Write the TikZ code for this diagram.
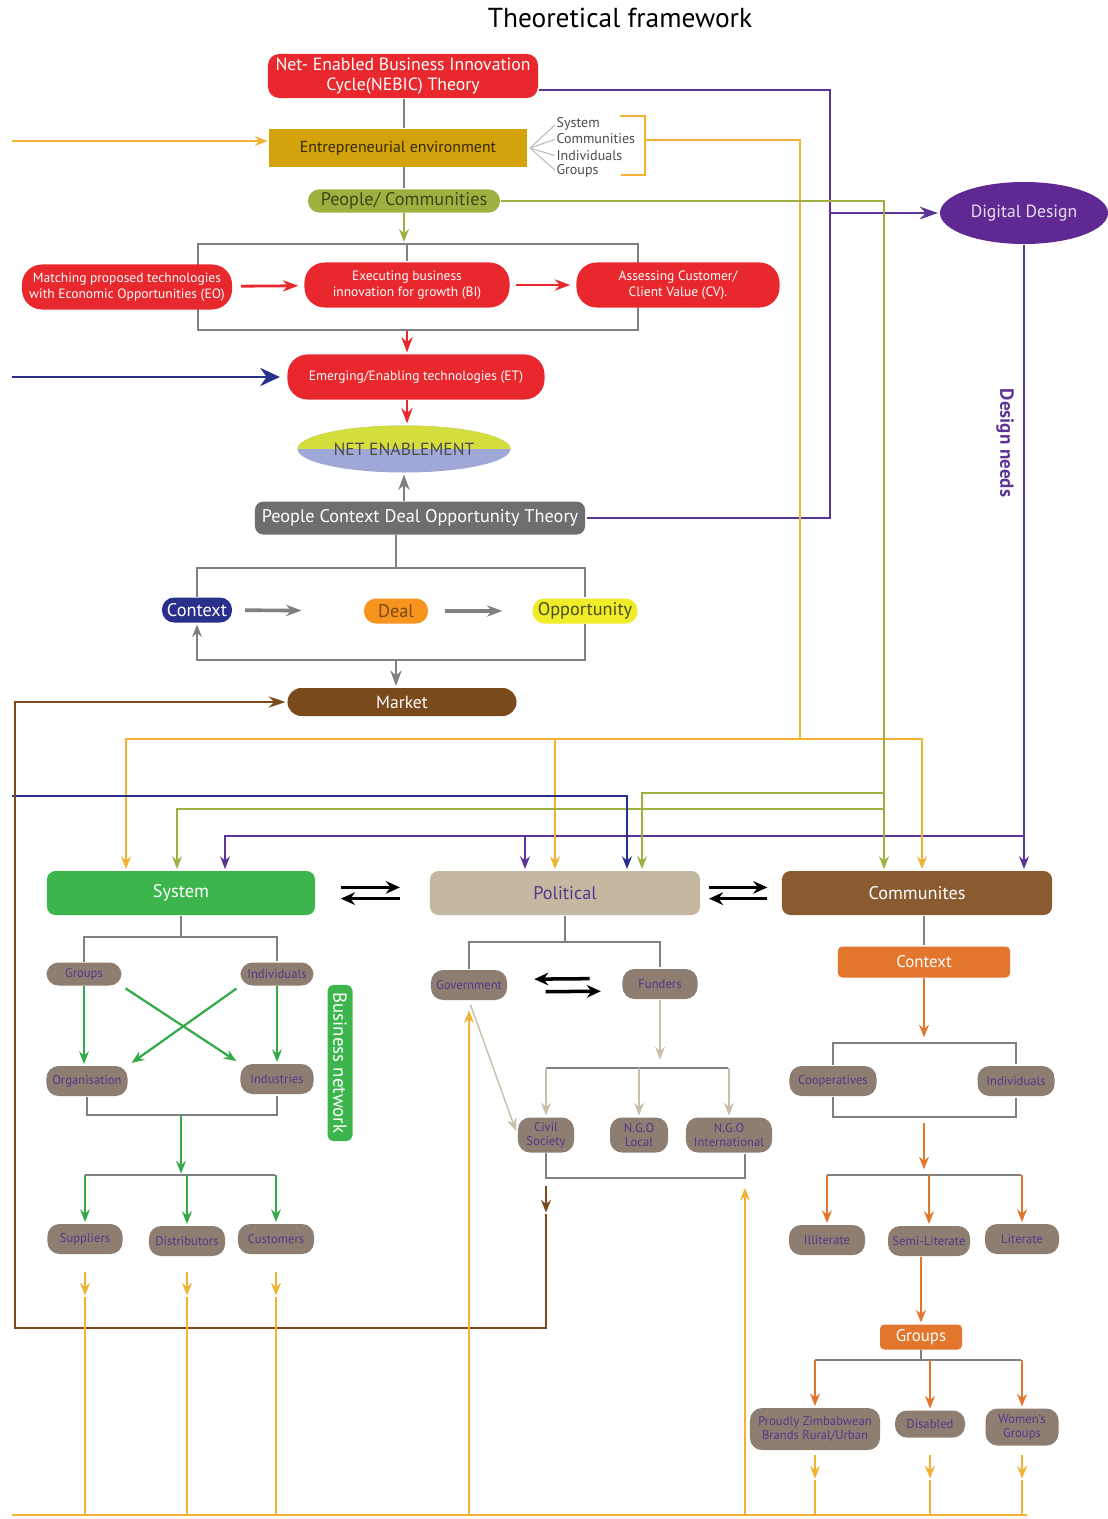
\documentclass[tikz,border=0pt]{standalone}
\usepackage{fontspec}
\setmainfont{PT Sans}
\usepackage[dvipsnames]{xcolor}
\usetikzlibrary{arrows.meta,shapes.geometric}

\definecolor{nebred}{RGB}{232,40,44}
\definecolor{envgold}{RGB}{212,162,10}
\definecolor{linegold}{RGB}{242,178,52}
\definecolor{peopleolive}{RGB}{158,176,64}
\definecolor{ddpurple}{RGB}{96,40,146}
\definecolor{linepurple}{RGB}{92,52,150}
\definecolor{ctxnavy}{RGB}{40,48,140}
\definecolor{pcdogray}{RGB}{108,110,112}
\definecolor{dealorange}{RGB}{247,148,30}
\definecolor{oppyellow}{RGB}{240,236,40}
\definecolor{mktbrown}{RGB}{122,74,28}
\definecolor{sysgreen}{RGB}{60,182,76}
\definecolor{poltan}{RGB}{196,184,160}
\definecolor{combrown}{RGB}{138,90,48}
\definecolor{comorange}{RGB}{226,118,44}
\definecolor{taupe}{RGB}{142,126,114}
\definecolor{nodetext}{RGB}{84,56,140}
\definecolor{frameline}{RGB}{128,128,128}
\definecolor{netyellow}{RGB}{212,222,60}
\definecolor{netblue}{RGB}{160,168,216}
\definecolor{arrowgreen}{RGB}{52,170,72}
\definecolor{arrowtan}{RGB}{200,190,170}

\begin{document}
\begin{tikzpicture}[x=0.025cm,y=-0.025cm,>={Stealth[length=9pt,width=7pt]},shorten >=1pt,thick,
    main node/.style={align=center,inner sep=1pt,text=white},
    red node/.style={main node,fill=nebred,rounded corners=0.5cm,minimum height=1.125cm,font=\fontsize{9.6}{11}\selectfont},
    gray node/.style={main node,fill=taupe,text=nodetext,rounded corners=0.3cm,minimum height=0.75cm,font=\fontsize{9}{10}\selectfont},
    big node/.style={main node,rounded corners=6pt,minimum width=6.75cm,minimum height=1.1cm,font=\fontsize{13}{15}\selectfont},
    pill node/.style={main node,rounded corners=0.3cm,minimum height=0.625cm,font=\fontsize{13}{15}\selectfont},
    orange node/.style={main node,fill=comorange,rounded corners=3pt,font=\fontsize{12}{14}\selectfont},
    list node/.style={anchor=west,inner sep=0pt,text=black!70,font=\fontsize{10}{11}\selectfont},
    gray line/.style={draw=frameline,line width=1pt},
    fan line/.style={draw=black!25,line width=0.8pt},
    gold line/.style={draw=linegold,line width=1.4pt},
    olive line/.style={draw=peopleolive,line width=1.4pt},
    purple line/.style={draw=linepurple,line width=1.4pt},
    navy line/.style={draw=ctxnavy,line width=1.4pt},
    mkt line/.style={draw=mktbrown,line width=1.4pt},
    red line/.style={draw=nebred,line width=2pt,-{Stealth[length=11pt,width=8pt]}},
    green arrow/.style={draw=arrowgreen,line width=1.6pt,->},
    tan arrow/.style={draw=arrowtan,line width=1.6pt,->},
    orange arrow/.style={draw=comorange,line width=1.8pt,->},
    gray arrow/.style={draw=frameline,line width=2.6pt,-{Stealth[length=11pt,width=8pt]}},
    black arrow/.style={draw=black,line width=2.5pt,-{Stealth[length=10pt,width=9pt]}}]

    \useasboundingbox (0,0) rectangle (1108,1519);

    \node[font=\fontsize{19.5}{22}\selectfont] (1) at (620,18) {Theoretical framework};
    \node[main node,fill=nebred,rounded corners=8pt,minimum width=6.75cm,minimum height=1.1cm,font=\fontsize{12.6}{14}\selectfont] (2) at (403,76) {Net- Enabled Business Innovation\\Cycle(NEBIC) Theory};
    \node[main node,fill=envgold,text=black!75!envgold,minimum width=6.425cm,minimum height=0.925cm,font=\fontsize{11.3}{13}\selectfont] (3) at (398,148) {Entrepreneurial environment};
    \node[list node] (4) at (556,124) {System};
    \node[list node] (5) at (556,139) {Communities};
    \node[list node] (6) at (556,156) {Individuals};
    \node[list node] (7) at (556,171) {Groups};
    \node[pill node,fill=peopleolive,text=black!60!peopleolive,rounded corners=0.28cm,minimum width=4.8cm,minimum height=0.575cm] (8) at (404,201) {People/ Communities};
    \node[draw=frameline,line width=1pt,minimum width=11cm,minimum height=2.15cm] (9) at (418,287) {};
    \node[red node,minimum width=5.25cm] (10) at (127,287) {Matching proposed technologies\\with Economic Opportunities (EO)};
    \node[red node,minimum width=5.125cm] (11) at (407,285) {Executing business\\innovation for growth (BI)};
    \node[red node,minimum width=5.075cm] (12) at (678,285) {Assessing Customer/\\Client Value (CV).};
    \node[red node,minimum width=6.425cm] (13) at (416,377) {Emerging/Enabling technologies (ET)};
    \node[ellipse,fill=netblue,inner sep=0pt,minimum width=5.325cm,minimum height=1.175cm,text=black!70,font=\fontsize{12.5}{14}\selectfont,
        path picture={\fill[netyellow] (path picture bounding box.north west) rectangle (path picture bounding box.east);}] (14) at (404,449) {NET ENABLEMENT};
    \node[pill node,fill=pcdogray,rounded corners=6pt,minimum width=8.25cm,minimum height=0.825cm] (15) at (420,518) {People Context Deal Opportunity Theory};
    \node[pill node,fill=ctxnavy,minimum width=1.75cm] (16) at (197,610) {Context};
    \node[pill node,fill=dealorange,text=mktbrown,minimum width=1.6cm] (17) at (396,611) {Deal};
    \node[pill node,fill=oppyellow,text=black!55!peopleolive,minimum width=2.625cm] (18) at (585,611) {Opportunity};
    \node[pill node,fill=mktbrown,rounded corners=0.35cm,minimum width=5.725cm,minimum height=0.7cm,font=\fontsize{12.5}{14}\selectfont] (19) at (402,702) {Market};

    \node[big node,fill=sysgreen,minimum width=6.7cm] (20) at (181,893) {System};
    \node[big node,fill=poltan,text=nodetext] (21) at (565,893) {Political};
    \node[big node,fill=combrown] (22) at (917,893) {Communites};

    \node[gray node,minimum width=1.875cm,minimum height=0.575cm] (23) at (84,974) {Groups};
    \node[gray node,minimum width=1.825cm,minimum height=0.575cm] (24) at (277,974) {Individuals};
    \node[gray node,minimum width=2.025cm] (25) at (87,1081) {Organisation};
    \node[gray node,minimum width=1.825cm] (26) at (277,1079) {Industries};
    \node[gray node,minimum width=1.875cm] (27) at (85,1239) {Suppliers};
    \node[gray node,minimum width=1.9cm] (28) at (187,1241) {Distributors};
    \node[gray node,minimum width=1.9cm] (29) at (276,1239) {Customers};
    \node[main node,fill=sysgreen,rounded corners=4pt,rotate=-90,minimum width=3.9cm,minimum height=0.625cm,font=\fontsize{13.4}{15}\selectfont] (30) at (340,1063) {Business network};

    \node[gray node,minimum width=1.9cm] (31) at (469,985) {Government};
    \node[gray node,minimum width=1.875cm] (32) at (660,984) {Funders};
    \node[gray node,minimum width=1.4cm,minimum height=0.875cm] (33) at (546,1135) {Civil\\Society};
    \node[gray node,minimum width=1.45cm,minimum height=0.875cm] (34) at (639,1135) {N.G.O\\Local};
    \node[gray node,minimum width=2.15cm,minimum height=0.875cm] (35) at (729,1135) {N.G.O\\International};

    \node[orange node,minimum width=4.3cm,minimum height=0.775cm] (36) at (924,962) {Context};
    \node[gray node,minimum width=2.175cm] (37) at (833,1081) {Cooperatives};
    \node[gray node,minimum width=1.925cm] (38) at (1016,1081) {Individuals};
    \node[gray node,minimum width=1.9cm] (39) at (827,1240) {Illiterate};
    \node[gray node,minimum width=2.05cm] (40) at (929,1241) {Semi-Literate};
    \node[gray node,minimum width=1.85cm] (41) at (1022,1239) {Literate};
    \node[orange node,minimum width=2.05cm,minimum height=0.625cm] (42) at (921,1337) {Groups};
    \node[gray node,minimum width=3.25cm,minimum height=1.05cm] (43) at (815,1429) {Proudly Zimbabwean\\Brands Rural/Urban};
    \node[gray node,minimum width=1.75cm,minimum height=0.675cm] (44) at (930,1424) {Disabled};
    \node[gray node,minimum width=1.825cm,minimum height=0.925cm] (45) at (1022,1427) {Women's\\Groups};

    \node[ellipse,fill=ddpurple,text=white!85!ddpurple,minimum width=4.2cm,minimum height=1.55cm,font=\fontsize{12.5}{14}\selectfont] (46) at (1024,213) {Digital Design};
    \node[rotate=-90,text=linepurple,font=\bfseries\fontsize{13.5}{15}\selectfont] (47) at (1005,443) {Design needs};

    \coordinate (fan) at (530,148);
    \coordinate (b1) at (645,140);
    \coordinate (g2) at (800,739);
    \coordinate (v1) at (830,300);
    \coordinate (v3) at (0,836);
    \coordinate (o2) at (884,793);
    \coordinate (o3) at (884,809);
    \coordinate (e1) at (12,796);
    \coordinate (e2) at (12,377);
    \coordinate (e3) at (12,141);
    \coordinate (g0) at (12,1515);
    \coordinate (g9) at (1028,1515);
    \coordinate (m1) at (15,1328);
    \coordinate (f1) at (0,568);
    \coordinate (f3) at (0,660);
    \coordinate (s1) at (181,937);
    \coordinate (s2) at (181,1115);
    \coordinate (s3) at (181,1175);
    \coordinate (p1) at (565,942);
    \coordinate (p2) at (660,1068);
    \coordinate (p4) at (745,1178);
    \coordinate (p5) at (546,1178);
    \coordinate (c1) at (924,1043);
    \coordinate (c2) at (924,1117);
    \coordinate (c3) at (924,1175);
    \coordinate (c4) at (921,1360);
    \coordinate (y1) at (0,1455);
    \coordinate (y2) at (0,1480);
    \coordinate (y3) at (0,1272);
    \coordinate (y4) at (0,1297);
    \coordinate (d1) at (126,0);
    \coordinate (d2) at (555,0);
    \coordinate (d3) at (922,0);
    \coordinate (d4) at (177,0);
    \coordinate (d5) at (642,0);
    \coordinate (d6) at (884,0);
    \coordinate (d7) at (225,0);
    \coordinate (d8) at (525,0);
    \coordinate (d9) at (627,0);

    \draw[gray line] (8 |- 2.south) -- (8 |- 3.north);
    \draw[gray line] (8 |- 3.south) -- (8.north);
    \foreach \n in {4,...,7}
        \draw[fan line] (fan) -- (\n.west);
    \draw[gold line] (620,116) -- (645,116) -- (645,175) -- (620,175);
    \draw[gold line,->] (e3) -- (e3 -| 3.west);
    \draw[olive line,->] (8.south) -- (8 |- 9.north);
    \draw[gray line] (11 |- 9.north) -- (11.north);
    \draw[red line,shorten <=6pt,shorten >=4pt] (10) -- (11);
    \draw[red line,shorten <=4pt,shorten >=4pt] (11) -- (12);
    \draw[red line] (11 |- 9.south) -- (11 |- 13.north);
    \draw[red line] (11 |- 13.south) -- (11 |- 14.north);
    \draw[navy line,-{Stealth[length=14pt,width=13pt]},shorten >=5pt] (e2) -- (13.west);
    \draw[gray arrow,line width=2pt] (14 |- 15.north) -- (14.south);

    \draw[gray line] (17 |- 15.south) -- (17 |- f1);
    \draw[gray line] (16.north) -- (16 |- f1) -- (18 |- f1) -- (18.north);
    \draw[gray line,->] (18.south) -- (18 |- f3) -- (16 |- f3) -- (16.south);
    \draw[gray arrow,line width=2pt] (17 |- f3) -- (17 |- 19.north);
    \draw[gray arrow,shorten <=9pt,shorten >=44pt] (16) -- (17);
    \draw[gray arrow,shorten <=12pt,shorten >=21pt] (17) -- (18);

    \draw[purple line] ([yshift=-10pt]2.east) -| (v1) |- (15.east);
    \draw[purple line,-{Stealth[length=13pt,width=9pt]}] (v1 |- 46.west) -- (46.west);
    \draw[purple line,->] (46.south) -- (46.south |- 22.north);
    \draw[purple line,->] (46.south |- v3) -| (d7 |- 20.north);
    \draw[purple line,->] (d8 |- v3) -- (d8 |- 21.north);
    \draw[gold line] (b1) -| (g2);
    \draw[gold line,->] (g2) -| (d1 |- 20.north);
    \draw[gold line,->] (g2) -| (d3 |- 22.north);
    \draw[gold line,->] (d2 |- g2) -- (d2 |- 21.north);
    \draw[olive line,->] (8.east) -| (d6 |- 22.north);
    \draw[olive line,->] (o2) -| (d5 |- 21.north);
    \draw[olive line,->] (o3) -| (d4 |- 20.north);
    \draw[navy line,->] (e1) -| (d9 |- 21.north);
    \draw[mkt line,->] (p5) ++(0,8) -- ++(0,28);
    \draw[mkt line,-{Stealth[length=12pt,width=8pt]}] (p5) ++(0,36) |- (m1) |- (19.west);

    \draw[black arrow,shorten <=18pt,shorten >=21pt] ([yshift=4pt]20.east) -- ([yshift=4pt]21.west);
    \draw[black arrow,shorten <=21pt,shorten >=18pt] ([yshift=-4pt]21.west) -- ([yshift=-4pt]20.east);
    \draw[black arrow,shorten <=6pt,shorten >=10pt] ([yshift=4pt]21.east) -- ([yshift=4pt]22.west);
    \draw[black arrow,shorten <=10pt,shorten >=6pt] ([yshift=-4pt]22.west) -- ([yshift=-4pt]21.east);

    \draw[gray line] (20) -- (s1);
    \draw[gray line] (23.north) |- (s1) -| (24.north);
    \draw[green arrow] (23.south) -- (23.south |- 25.north);
    \draw[green arrow] (24.south) -- (24.south |- 26.north);
    \draw[green arrow,shorten <=3pt,shorten >=3pt] (23.south east) -- (26.north west);
    \draw[green arrow,shorten <=3pt,shorten >=3pt] (24.south west) -- (25.north east);
    \draw[gray line] (25.south) |- (s2) -| (26.south);
    \draw[green arrow] (s2) -- (s3);
    \draw[gray line] (27 |- s3) -- (29 |- s3);
    \foreach \n in {27,28,29}
        \draw[green arrow] (\n |- s3) -- (\n.north);

    \draw[gray line] (21) -- (p1);
    \draw[gray line] (31.north) |- (p1) -| (32.north);
    \draw[black arrow,shorten <=23pt,shorten >=19pt] ([yshift=4pt]32.west) -- ([yshift=4pt]31.east);
    \draw[black arrow,shorten <=27pt,shorten >=15pt] ([yshift=-5pt]31.east) -- ([yshift=-5pt]32.west);
    \draw[draw=arrowtan,line width=1pt,->,shorten <=3pt,shorten >=3pt] (31.south) -- (33.west);
    \draw[tan arrow,shorten >=6pt] (32.south) -- (32 |- p2);
    \draw[gray line] (33 |- p2) -- (35 |- p2);
    \foreach \n in {33,34,35}
        \draw[tan arrow] (\n |- p2) -- (\n.north);
    \draw[gray line] (33.south) |- (p4) -- (p4 |- 35.south);

    \draw[gray line] (36 |- 22.south) -- (36.north);
    \draw[orange arrow,shorten >=4pt] (36.south) -- (c1);
    \draw[gray line] (37.north) |- (c1) -| (38.north);
    \draw[gray line] (37.south) |- (c2) -| (38.south);
    \draw[orange arrow,shorten <=4pt,shorten >=4pt] (c2) -- (c3);
    \draw[gray line] (39 |- c3) -- (41 |- c3);
    \foreach \n in {39,40,41}
        \draw[orange arrow] (\n |- c3) -- (\n.north);
    \draw[orange arrow] (42 |- 40.south) -- (42.north);
    \draw[gray line] (42.south) -- (c4);
    \draw[gray line] (43 |- c4) -- (45 |- c4);
    \foreach \n in {43,44,45}
        \draw[orange arrow] (\n |- c4) -- (\n.north);

    \draw[gold line] (g0) -- (g9);
    \foreach \n in {27,28,29} {
        \draw[gold line,->] (\n |- y3) -- (\n |- y4);
        \draw[gold line] (\n |- y4) -- (\n |- g0);
    }
    \foreach \n in {43,44,45} {
        \draw[gold line,->] (\n |- y1) -- (\n |- y2);
        \draw[gold line] (\n |- y2) -- (\n |- g0);
    }
    \draw[gold line,->,shorten >=7pt] (31 |- g0) -- (31.south);
    \draw[gold line,->,shorten >=7pt] (p4 |- g0) -- (p4);
\end{tikzpicture}
\end{document}
